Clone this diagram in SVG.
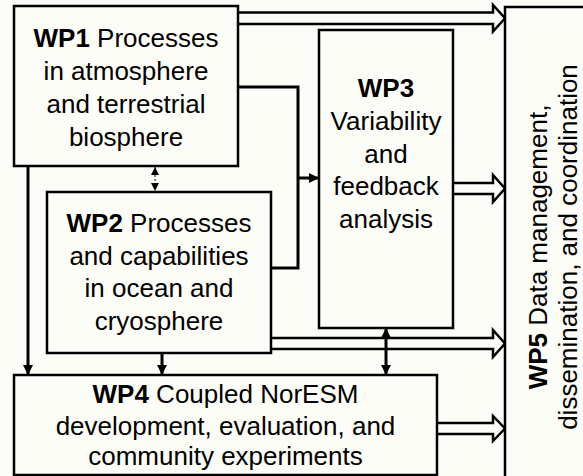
<svg xmlns="http://www.w3.org/2000/svg" width="583" height="476" viewBox="0 0 583 476">
<defs>
<style>
.bg{fill:#fdfdf7}
.box{fill:#fdfdf7;stroke:#000;stroke-width:2.5}
.t{font-family:"Liberation Sans",Arial,sans-serif;font-size:26px;fill:#000;text-anchor:middle}
.b{font-weight:bold}
.ln{fill:none;stroke:#000;stroke-width:3}
.hol{fill:#fdfdf7;stroke:#000;stroke-width:2.5;stroke-linejoin:miter}
.dot{fill:none;stroke:#000;stroke-width:1;stroke-dasharray:2 2}
</style>
<marker id="ah" viewBox="0 0 10 10" refX="10" refY="5" markerWidth="10" markerHeight="10" markerUnits="userSpaceOnUse" orient="auto-start-reverse">
<path d="M0,0 L10,5 L0,10 Z" fill="#000"/>
</marker>
<marker id="ahs" viewBox="0 0 10 10" refX="10" refY="5" markerWidth="8" markerHeight="8" markerUnits="userSpaceOnUse" orient="auto-start-reverse">
<path d="M0,0 L10,5 L0,10 Z" fill="#000"/>
</marker>
</defs>
<rect class="bg" x="0" y="0" width="583" height="476"/>

<g id="connectors">
<path class="hol" d="M238,12.5 H493 V5 L505,18.25 L493,31.5 V24 H238"/>
<path class="hol" d="M453,183 H493 V175 L505,188.5 L493,202 V194 H453"/>
<path class="hol" d="M271,338 H493 V330 L505,343.5 L493,357 V349 H271"/>
<path class="hol" d="M437,423 H493 V416 L505,428.5 L493,441 V434 H437"/>
<path class="ln" d="M238,87 H298 V268 H271"/>
<line class="ln" x1="298" y1="178" x2="319" y2="178" marker-end="url(#ah)"/>
<line class="ln" x1="28" y1="166" x2="28" y2="375" marker-end="url(#ah)"/>
<line class="ln" x1="162" y1="353" x2="162" y2="375" marker-end="url(#ah)"/>
<line class="ln" x1="386" y1="328" x2="386" y2="375" marker-start="url(#ah)" marker-end="url(#ah)"/>
<line class="dot" x1="155" y1="167" x2="155" y2="191" marker-start="url(#ahs)" marker-end="url(#ahs)"/>
</g>

<g id="WP1">
<rect class="box" x="14" y="6" width="224" height="160"/>
<text class="t" x="126" y="47"><tspan class="b">WP1</tspan> Processes</text>
<text class="t" x="126" y="80">in atmosphere</text>
<text class="t" x="126" y="113">and terrestrial</text>
<text class="t" x="126" y="146">biosphere</text>
</g>

<g id="WP2">
<rect class="box" x="47" y="192" width="224" height="161"/>
<text class="t" x="159" y="232"><tspan class="b">WP2</tspan> Processes</text>
<text class="t" x="159" y="264.5">and capabilities</text>
<text class="t" x="159" y="297">in ocean and</text>
<text class="t" x="159" y="329.5">cryosphere</text>
</g>

<g id="WP3">
<rect class="box" x="319" y="30" width="134" height="298"/>
<text class="t b" x="386" y="97">WP3</text>
<text class="t" x="386" y="130">Variability</text>
<text class="t" x="386" y="163">and</text>
<text class="t" x="386" y="195">feedback</text>
<text class="t" x="386" y="228">analysis</text>
</g>

<g id="WP4">
<rect class="box" x="14" y="375" width="423" height="100"/>
<text class="t" x="225.5" y="403"><tspan class="b">WP4</tspan> Coupled NorESM</text>
<text class="t" x="225.5" y="434.5">development, evaluation, and</text>
<text class="t" x="225.5" y="465">community experiments</text>
</g>

<g id="WP5">
<rect class="box" x="505" y="7" width="90" height="480"/>
<text class="t" transform="translate(547,247) rotate(-90)"><tspan class="b">WP5</tspan> Data management,</text>
<text class="t" transform="translate(577,247) rotate(-90)">dissemination, and coordination</text>
</g>
</svg>
